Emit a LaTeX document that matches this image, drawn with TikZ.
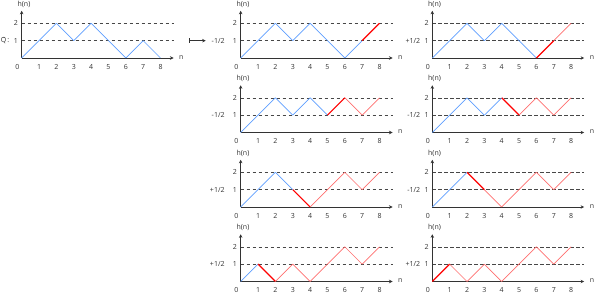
\documentclass[tikz,border=0pt]{standalone}
\usepackage{fontspec}
\setmainfont{Open Sans}
\usepackage{xcolor}
\usepackage{tikz}
\usetikzlibrary{arrows.meta,positioning}
\definecolor{hblue}{HTML}{5E9EFF}
\definecolor{hred}{HTML}{FF0000}
\definecolor{hpink}{HTML}{FF6E6E}
\definecolor{hdark}{HTML}{333333}
\tikzset{
  lbl/.style={font=\fontsize{7}{8}\selectfont,inner sep=1pt,text=hdark},
  axis/.style={-{Stealth[length=3.5pt,width=3.5pt]},draw=hdark,line width=0.6pt},
  level/.style={draw=hdark!90,line width=0.5pt,dash pattern=on 3.5pt off 2.5pt},
  oldstep/.style={draw=hblue,line width=0.7pt},
  flipstep/.style={draw=hred,line width=1.2pt},
  newstep/.style={draw=hpink,line width=0.7pt},
  mapsto/.style={{Bar[width=4.5pt]}-{Stealth[length=3.5pt,width=3.5pt]},draw=hdark,line width=0.6pt},
}
\begin{document}
\begin{tikzpicture}[x=17.35pt,y=17.35pt]
  \useasboundingbox (0pt,0pt) rectangle (594pt,-294pt);
  \foreach \p/\x/\y/\k/\hs in {q/21.7/58/8/{0,1,2,1,2,1,0,1,0},
      a/240.7/58/7/{0,1,2,1,2,1,0,1,2}, b/432.3/58/6/{0,1,2,1,2,1,0,1,2},
      c/240.7/132.5/5/{0,1,2,1,2,1,2,1,2}, d/432.3/132.5/4/{0,1,2,1,2,1,2,1,2},
      e/240.7/207/3/{0,1,2,1,0,1,2,1,2}, f/432.3/207/2/{0,1,2,1,0,1,2,1,2},
      g/240.7/281.5/1/{0,1,0,1,0,1,2,1,2}, h/432.3/281.5/0/{0,1,0,1,0,1,2,1,2}}{
    \begin{scope}[shift={({\x/17.35},{-\y/17.35})}]
      \draw[level] (0,1) -- (8.75,1) (0,2) -- (8.75,2);
      \draw[axis] (0,0) -- (8.75,0);
      \draw[axis] (0,0) -- (0,2.72);
      \node[lbl] (\p-hn) at (0.13,3.1) {h(n)};
      \node[lbl] (\p-n) at (9.2,0.05) {n};
      \node[lbl] (\p-x0) at (-0.25,-0.5) {0};
      \foreach \i in {1,...,8} \node[lbl] (\p-x\i) at (\i,-0.5) {\i};
      \foreach \j in {1,2} \node[lbl] (\p-y\j) at (-0.33,\j) {\j};
      \foreach \v [count=\i from 0] in \hs \coordinate (\p-\i) at (\i,\v);
      \foreach \i [evaluate=\i as \j using int(\i+1)] in {0,...,7}{
        \ifnum\i<\k \def\sty{oldstep}\else\ifnum\i=\k \def\sty{flipstep}\else\def\sty{newstep}\fi\fi
        \draw[\sty] (\p-\i) -- (\p-\j);}
    \end{scope}}
  \foreach \p/\sg/\d in {a/-/6pt,b/+/2pt,c/-/6pt,d/-/2pt,e/+/6pt,f/-/2pt,g/+/6pt,h/+/2pt}
    \node[lbl,left=\d of \p-y1] (\p-sg) {\sg1/2};
  \node[lbl] (qname) at (5pt,-40.7pt) {\~{Q}\,:};
  \coordinate (mapfrom) at (189.3pt,-40.7pt);
  \coordinate (mapto) at (205.7pt,-40.7pt);
  \draw[mapsto] (mapfrom) -- (mapto);
\end{tikzpicture}
\end{document}
